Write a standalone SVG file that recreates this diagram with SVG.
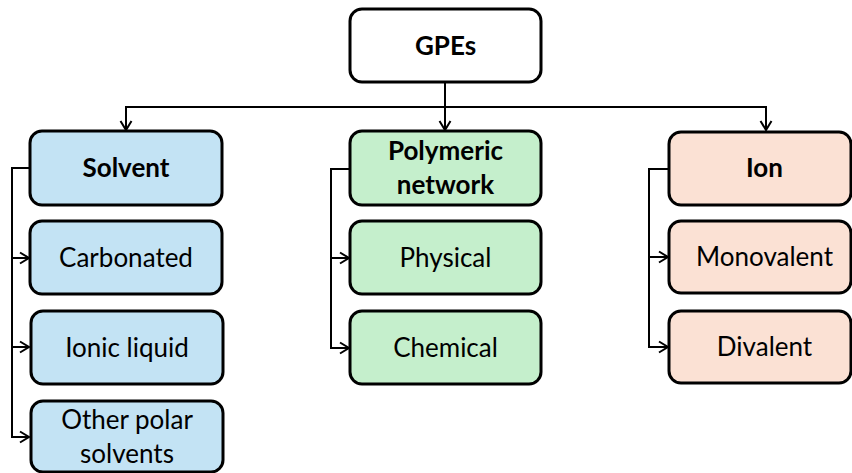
<svg xmlns="http://www.w3.org/2000/svg" width="852" height="473" viewBox="0 0 852 473">
<style>
.box{stroke:#000;stroke-width:3}
.w{fill:#ffffff}
.b{fill:#c3e3f4}
.g{fill:#c5efcc}
.p{fill:#fbe1d4}
text{font-family:Lato,"Open Sans","Liberation Sans",sans-serif;font-size:26px;fill:#000;text-anchor:middle}
.bd{font-weight:bold}
.c{fill:none;stroke:#000;stroke-width:2}
</style>
<defs>
<marker id="ah" markerWidth="12" markerHeight="14" refX="10" refY="7" orient="auto" markerUnits="userSpaceOnUse">
<path d="M1,1.5 L10,7 L1,12.5" fill="none" stroke="#000" stroke-width="2"/>
</marker>
</defs>
<rect width="852" height="473" fill="#fff"/>
<g id="connectors">
<path class="c" d="M445,82 V130" marker-end="url(#ah)"/>
<path class="c" d="M126,130 V107 H766 V130" marker-end="url(#ah)"/>
<path class="c" d="M126,107 V130" marker-end="url(#ah)"/>
<path class="c" d="M30,168 H12 V258 H29" marker-end="url(#ah)"/>
<path class="c" d="M12,258 V347 H29" marker-end="url(#ah)"/>
<path class="c" d="M12,347 V437 H29" marker-end="url(#ah)"/>
<path class="c" d="M350,169 H331 V258 H349" marker-end="url(#ah)"/>
<path class="c" d="M331,258 V348 H349" marker-end="url(#ah)"/>
<path class="c" d="M669,169 H649 V257 H668" marker-end="url(#ah)"/>
<path class="c" d="M649,257 V347 H668" marker-end="url(#ah)"/>
</g>
<g id="gpes"><rect class="box w" x="350" y="9" width="191" height="73" rx="12"/><text class="bd" x="445.5" y="55">GPEs</text></g>
<g id="solvent"><rect class="box b" x="30" y="131" width="192" height="74" rx="12"/><text class="bd" x="126" y="177">Solvent</text></g>
<g id="carbonated"><rect class="box b" x="30" y="221" width="192" height="73" rx="12"/><text x="126" y="267">Carbonated</text></g>
<g id="ionic"><rect class="box b" x="31" y="311" width="192" height="73" rx="12"/><text x="127" y="357">Ionic liquid</text></g>
<g id="other"><rect class="box b" x="31" y="401" width="192" height="71" rx="12"/><text x="127" y="429">Other polar</text><text x="127" y="463">solvents</text></g>
<g id="polymeric"><rect class="box g" x="350" y="131" width="191" height="74" rx="12"/><text class="bd" x="445.5" y="160">Polymeric</text><text class="bd" x="445.5" y="194">network</text></g>
<g id="physical"><rect class="box g" x="350" y="221" width="191" height="73" rx="12"/><text x="445.5" y="267">Physical</text></g>
<g id="chemical"><rect class="box g" x="350" y="311" width="191" height="73" rx="12"/><text x="445.5" y="357">Chemical</text></g>
<g id="ion"><rect class="box p" x="669" y="132" width="182" height="73" rx="12"/><text class="bd" x="764.5" y="177">Ion</text></g>
<g id="monovalent"><rect class="box p" x="669" y="221" width="182" height="72" rx="12"/><text x="764.5" y="266">Monovalent</text></g>
<g id="divalent"><rect class="box p" x="669" y="311" width="182" height="72" rx="12"/><text x="764.5" y="356">Divalent</text></g>
</svg>
